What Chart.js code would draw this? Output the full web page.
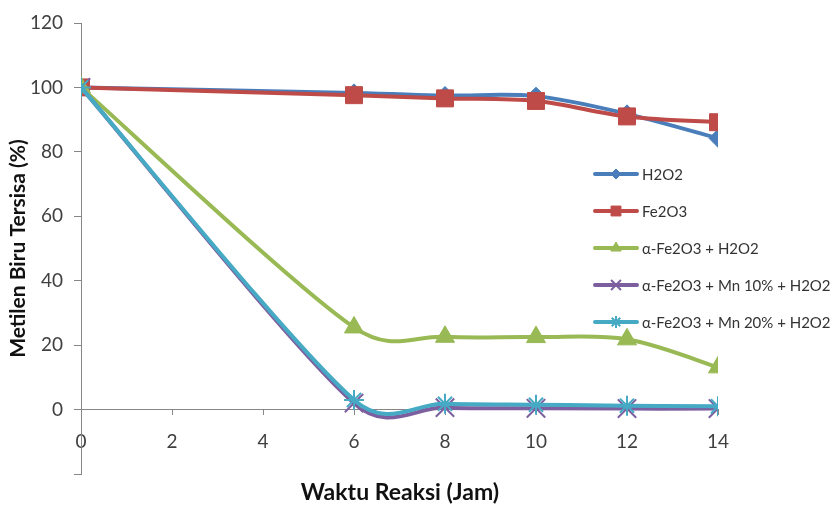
<!DOCTYPE html>
<html><head><meta charset="utf-8">
<script src="https://cdn.jsdelivr.net/npm/chart.js@4.4.0/dist/chart.umd.min.js"></script>
<style>html,body{margin:0;padding:0;background:#fff}#wrap{width:832px;height:507px;position:relative}</style>
</head><body><div id="wrap"><canvas id="c" width="832" height="507"></canvas></div>
<script>
// ---- data ----
const timeHours = [0, 6, 8, 10, 12, 14];
const seriesNames = ['H2O2', 'Fe2O3', 'α-Fe2O3 + H2O2', 'α-Fe2O3 + Mn 10% + H2O2', 'α-Fe2O3 + Mn 20% + H2O2'];
const h2o2 = [100, 98.3, 97.5, 97.3, 91.8, 84.2];
const fe2o3 = [100, 97.6, 96.6, 95.8, 91, 89.2];
const alphaFe2o3H2o2 = [100, 25.5, 22.6, 22.5, 21.8, 13.1];
const mn10 = [100, 2.0, 0.6, 0.4, 0.3, 0.3];
const mn20 = [100, 3.0, 1.8, 1.5, 1.2, 1.0];
const xTickValues = [0, 2, 4, 6, 8, 10, 12, 14];
const yTickValues = [0, 20, 40, 60, 80, 100, 120];
const xTitle = 'Waktu Reaksi (Jam)';
const yTitle = 'Metilen Biru Tersisa (%)';

const allSeries = [h2o2, fe2o3, alphaFe2o3H2o2, mn10, mn20];
const colors = ['#4A7EBB', '#BE4B48', '#98B954', '#7D5FA0', '#46AAC5'];
const styles = ['rectRot', 'rect', 'triangle', 'crossRot', 'star'];
const radii = [9, 12, 11, 13, 10];
const legendRadii = [5, 7, 6, 7, 6];
const pointBorder = [1, 1, 1, 2, 2];

const datasets = allSeries.map((arr, i) => ({
  label: seriesNames[i],
  data: timeHours.map((x, j) => ({x: x, y: arr[j]})),
  borderColor: colors[i],
  backgroundColor: colors[i],
  pointBackgroundColor: colors[i],
  pointBorderColor: colors[i],
  pointStyle: styles[i],
  pointRadius: radii[i],
  pointBorderWidth: pointBorder[i],
  borderWidth: 4,
  tension: 0.4,
  fill: false,
  order: allSeries.length - i
}));

const FONT = 'Lato, "Open Sans", sans-serif';
const axisColor = '#868686';

// Spreadsheet-style smoothing: tangent (next - prev)/6, capped at half of each adjacent segment
const sheetSmooth = {
  id: 'sheetSmooth',
  beforeDatasetsDraw(chart) {
    chart.getSortedVisibleDatasetMetas().forEach(meta => {
      const pts = meta.data;
      const n = pts.length;
      for (let i = 0; i < n; i++) {
        const p = pts[i];
        const prev = pts[Math.max(i - 1, 0)];
        const next = pts[Math.min(i + 1, n - 1)];
        const tx = (next.x - prev.x) / 6, ty = (next.y - prev.y) / 6;
        const tl = Math.hypot(tx, ty);
        const dPrev = Math.hypot(p.x - prev.x, p.y - prev.y);
        const dNext = Math.hypot(next.x - p.x, next.y - p.y);
        let s1 = 1, s2 = 1;
        if (tl > 0) {
          if (tl > dPrev / 2) s1 = (dPrev / 2) / tl;
          if (tl > dNext / 2) s2 = (dNext / 2) / tl;
        }
        p.cp1x = p.x - tx * s1; p.cp1y = p.y - ty * s1;
        p.cp2x = p.x + tx * s2; p.cp2y = p.y + ty * s2;
      }
      if (meta.dataset) { meta.dataset._pointsUpdated = true; meta.dataset._path = undefined; }
    });
  }
};

const sideLegend = {
  id: 'sideLegend',
  afterDraw(chart) {
    const ctx = chart.ctx;
    ctx.save();
    chart.data.datasets.forEach((ds, i) => {
      const y = 174 + i * 37;
      ctx.strokeStyle = ds.borderColor;
      ctx.lineWidth = 4;
      ctx.lineCap = 'round';
      ctx.beginPath();
      ctx.moveTo(595, y);
      ctx.lineTo(637, y);
      ctx.stroke();
      ctx.fillStyle = ds.borderColor;
      ctx.lineWidth = ds.pointBorderWidth;
      ctx.lineCap = 'butt';
      Chart.helpers.drawPoint(ctx, {pointStyle: ds.pointStyle, radius: legendRadii[i], rotation: 0, borderWidth: ds.pointBorderWidth}, 616, y);
      ctx.fillStyle = '#333';
      ctx.font = '15px ' + FONT;
      ctx.textBaseline = 'middle';
      ctx.textAlign = 'left';
      ctx.fillText(ds.label, 642, y + 1);
    });
    // x axis title
    ctx.fillStyle = '#111';
    ctx.font = 'bold 23px ' + FONT;
    ctx.textAlign = 'center';
    ctx.textBaseline = 'middle';
    ctx.fillText(xTitle, 400, 493);
    ctx.restore();
  }
};

new Chart(document.getElementById('c'), {
  type: 'line',
  data: {datasets: datasets},
  plugins: [sheetSmooth, sideLegend],
  options: {
    responsive: false,
    animation: false,
    devicePixelRatio: 1,
    layout: {padding: {left: 0, right: 114, top: 23, bottom: 33}},
    plugins: {legend: {display: false}, tooltip: {enabled: false}},
    scales: {
      x: {
        type: 'linear',
        position: {y: 0},
        min: 0, max: 14,
        afterBuildTicks: s => { s.ticks = xTickValues.map(v => ({value: v})); },
        ticks: {color: '#404040', font: {family: FONT, size: 19}, padding: 16, maxRotation: 0},
        grid: {drawOnChartArea: false, tickLength: 5, color: axisColor},
        border: {color: axisColor, width: 1},
        title: {display: false}
      },
      y: {
        type: 'linear',
        min: -20, max: 120,
        afterBuildTicks: s => { s.ticks = [-20].concat(yTickValues).map(v => ({value: v})); },
        afterFit: s => { s.width = 81; },
        ticks: {color: '#404040', font: {family: FONT, size: 19}, padding: 11, callback: v => (v < 0 ? '' : String(v))},
        grid: {drawOnChartArea: false, tickLength: 7, color: axisColor},
        border: {color: axisColor, width: 1},
        title: {display: true, text: yTitle, color: '#111', font: {family: FONT, size: 21, weight: 'bold'}, padding: {top: 6, bottom: 0}}
      }
    }
  }
});
</script>
</body></html>
